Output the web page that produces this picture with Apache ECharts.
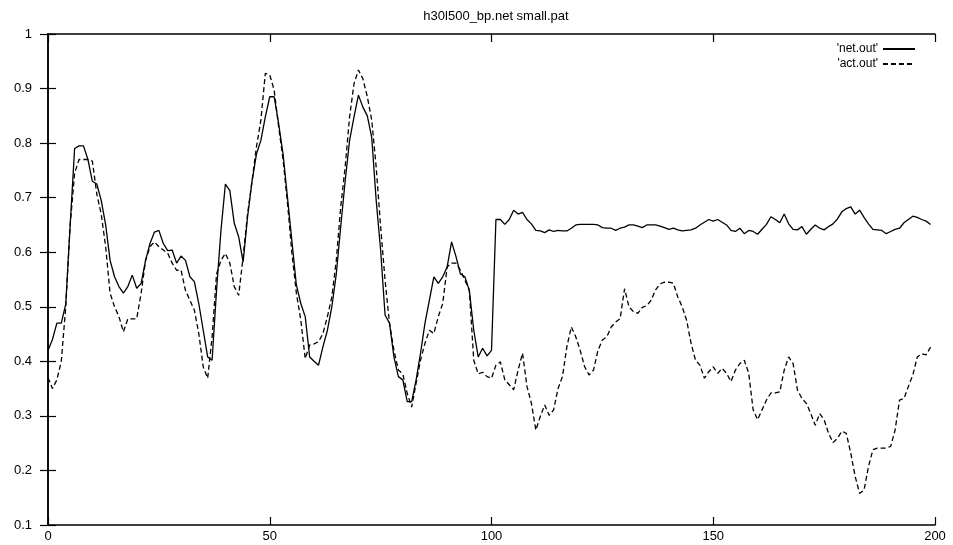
<!DOCTYPE html>
<html>
<head>
<meta charset="utf-8">
<title>h30l500_bp.net small.pat</title>
<script src="https://cdn.jsdelivr.net/npm/echarts@6/dist/echarts.min.js"></script>
<style>
  html, body { margin: 0; padding: 0; background: #fff; }
  #main { width: 953px; height: 545px; }
</style>
</head>
<body>
<div id="main"></div>
<script>
// 数据: x = 0..199
var netOut = [
  0.42,0.44,0.47,0.47,0.505,0.65,0.79,0.795,0.795,0.77,
  0.73,0.725,0.695,0.65,0.585,0.555,0.537,0.525,0.537,0.558,
  0.534,0.543,0.585,0.616,0.637,0.64,0.616,0.603,0.604,0.58,
  0.593,0.585,0.555,0.546,0.506,0.457,0.408,0.402,0.53,0.64,
  0.725,0.713,0.653,0.628,0.582,0.665,0.73,0.78,0.805,0.848,
  0.885,0.885,0.836,0.78,0.70,0.62,0.54,0.506,0.482,0.408,
  0.40,0.393,0.427,0.457,0.50,0.56,0.647,0.73,0.805,0.848,
  0.888,0.866,0.85,0.81,0.695,0.604,0.485,0.47,0.408,0.372,
  0.366,0.326,0.326,0.366,0.415,0.47,0.512,0.555,0.543,0.555,
  0.573,0.619,0.592,0.56,0.555,0.53,0.457,0.408,0.424,0.41,
  0.42,0.66,0.66,0.651,0.66,0.677,0.67,0.673,0.66,0.652,
  0.64,0.639,0.636,0.641,0.638,0.64,0.639,0.639,0.644,0.65,
  0.651,0.651,0.651,0.651,0.65,0.645,0.644,0.644,0.64,0.644,
  0.646,0.65,0.65,0.648,0.645,0.65,0.65,0.65,0.648,0.645,
  0.642,0.644,0.641,0.639,0.64,0.641,0.644,0.65,0.655,0.66,
  0.657,0.66,0.655,0.65,0.64,0.638,0.644,0.634,0.64,0.638,
  0.633,0.642,0.651,0.665,0.66,0.654,0.67,0.652,0.642,0.641,
  0.647,0.633,0.642,0.65,0.644,0.641,0.647,0.652,0.661,0.674,
  0.68,0.683,0.67,0.677,0.664,0.652,0.642,0.641,0.64,0.634,
  0.638,0.642,0.644,0.654,0.66,0.666,0.664,0.66,0.657,0.651
];
var actOut = [
  0.37,0.35,0.366,0.40,0.50,0.65,0.745,0.77,0.77,0.77,
  0.767,0.707,0.67,0.61,0.525,0.50,0.482,0.454,0.478,0.478,
  0.478,0.525,0.585,0.61,0.619,0.61,0.604,0.598,0.58,0.567,
  0.567,0.53,0.512,0.494,0.451,0.39,0.369,0.445,0.56,0.585,
  0.598,0.58,0.537,0.521,0.592,0.67,0.73,0.793,0.842,0.928,
  0.925,0.897,0.83,0.77,0.69,0.598,0.525,0.476,0.405,0.43,
  0.432,0.436,0.451,0.482,0.518,0.585,0.683,0.756,0.848,0.909,
  0.934,0.918,0.885,0.842,0.756,0.647,0.549,0.47,0.42,0.384,
  0.377,0.341,0.316,0.36,0.402,0.433,0.457,0.451,0.482,0.506,
  0.573,0.58,0.58,0.567,0.549,0.53,0.402,0.377,0.38,0.372,
  0.369,0.393,0.399,0.366,0.357,0.348,0.384,0.415,0.354,0.323,
  0.274,0.299,0.32,0.301,0.311,0.35,0.372,0.427,0.463,0.445,
  0.42,0.39,0.375,0.384,0.42,0.439,0.445,0.463,0.472,0.478,
  0.533,0.50,0.491,0.488,0.499,0.502,0.512,0.531,0.542,0.545,
  0.545,0.543,0.518,0.50,0.475,0.433,0.402,0.393,0.369,0.381,
  0.39,0.378,0.387,0.378,0.363,0.384,0.396,0.402,0.378,0.311,
  0.293,0.311,0.329,0.342,0.342,0.344,0.384,0.408,0.396,0.347,
  0.332,0.323,0.304,0.283,0.304,0.293,0.268,0.251,0.259,0.272,
  0.268,0.232,0.189,0.158,0.164,0.207,0.238,0.241,0.241,0.241,
  0.244,0.274,0.329,0.332,0.354,0.375,0.408,0.414,0.412,0.426
];
var xTicks = [0, 200, 50];   // min, max, interval
var yTicks = [0.1, 1, 0.1];
var seriesNames = ["'net.out'", "'act.out'"];

// [x, y] 点对
function pairs(arr) {
  var out = [];
  for (var i = 0; i < arr.length; i++) out.push([i, arr[i]]);
  return out;
}

var font = 'Liberation Sans, Arial, sans-serif';
var axisLine = { show: true, lineStyle: { color: '#000', width: 1.5 } };
var tick = { show: true, inside: true, length: 8, lineStyle: { color: '#000', width: 1.2 } };

var chart = echarts.init(document.getElementById('main'));
var option = {
  animation: false,
  backgroundColor: '#fff',
  title: {
    text: 'h30l500_bp.net small.pat',
    left: 491, top: 5, textAlign: 'center',
    textStyle: { fontFamily: font, fontSize: 13, fontWeight: 'normal', color: '#000' }
  },
  // 图例: 文字在左, 线段在右, 不要圆点
  legend: {
    orient: 'vertical',
    right: 32, top: 38,
    align: 'right',
    itemWidth: 32, itemHeight: 10, itemGap: 3,
    itemStyle: { opacity: 0 },
    textStyle: { fontFamily: font, fontSize: 12, color: '#000' },
    data: seriesNames
  },
  grid: { left: 48, right: 18, top: 34, bottom: 20 },
  xAxis: [{
    type: 'value', min: xTicks[0], max: xTicks[1], interval: xTicks[2],
    axisLine: axisLine, axisTick: tick, splitLine: { show: false },
    axisLabel: { color: '#000', fontFamily: font, fontSize: 13, margin: 5 }
  }, {
    type: 'value', position: 'top', min: xTicks[0], max: xTicks[1], interval: xTicks[2],
    axisLine: axisLine, axisTick: tick, splitLine: { show: false },
    axisLabel: { show: false }
  }],
  yAxis: [{
    type: 'value', min: yTicks[0], max: yTicks[1], interval: yTicks[2],
    axisLine: axisLine, axisTick: tick, splitLine: { show: false },
    axisLabel: { color: '#000', fontFamily: font, fontSize: 13, margin: 16,
      formatter: function (v) { return +v.toFixed(1) + ''; } }
  }, {
    type: 'value', position: 'right', min: yTicks[0], max: yTicks[1], interval: yTicks[2],
    axisLine: axisLine, axisTick: tick, splitLine: { show: false },
    axisLabel: { show: false }
  }],
  series: [{
    name: seriesNames[0],
    type: 'line',
    symbol: 'none',
    data: pairs(netOut),
    lineStyle: { color: '#000', width: 1.3, type: 'solid' },
    itemStyle: { color: '#000' }
  }, {
    name: seriesNames[1],
    type: 'line',
    symbol: 'none',
    data: pairs(actOut),
    lineStyle: { color: '#000', width: 1.3, type: [5, 3] },
    itemStyle: { color: '#000' }
  }]
};
chart.setOption(option);
</script>
</body>
</html>
